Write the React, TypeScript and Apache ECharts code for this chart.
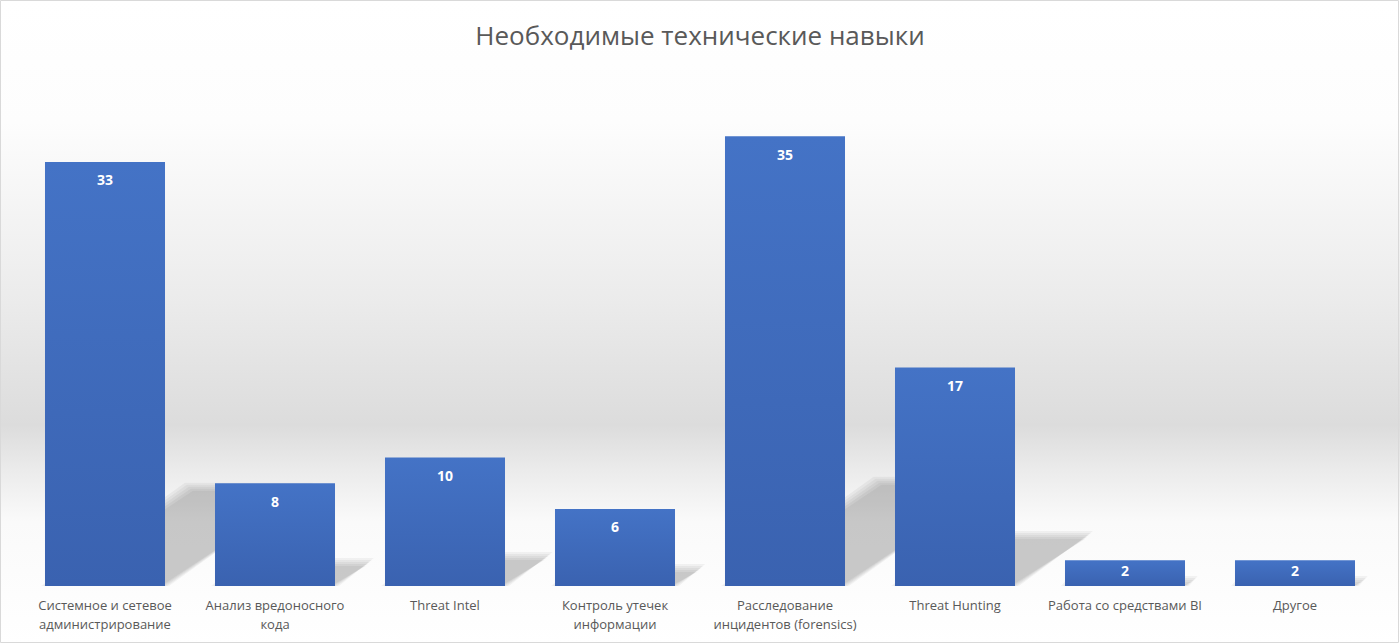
import * as echarts from 'echarts';
import React, { useEffect, useRef } from 'react';

const categories = [
  'Системное и сетевое\nадминистрирование',
  'Анализ вредоносного\nкода',
  'Threat Intel',
  'Контроль утечек\nинформации',
  'Расследование\nинцидентов (forensics)',
  'Threat Hunting',
  'Работа со средствами BI',
  'Другое',
];
const values = [33, 8, 10, 6, 35, 17, 2, 2];

const FONT = '"Open Sans", "Noto Sans", sans-serif';

// soft edge for the floor shadow: several stacked polygons, a bit wider each time
const blurSteps = [-4, -2, 0, 2, 4];

const App: React.FC = () => {
  const ref = useRef<HTMLDivElement>(null);
  const chart = useRef<echarts.ECharts>();

  useEffect(() => {
    chart.current = echarts.init(ref.current, null, { renderer: 'svg' });
    chart.current.setOption({
      animation: false,
      backgroundColor: new echarts.graphic.LinearGradient(0, 0, 0, 1, [
        { offset: 0, color: '#ffffff' },
        { offset: 0.19, color: '#fdfdfd' },
        { offset: 0.47, color: '#ebebeb' },
        { offset: 0.66, color: '#dcdcdc' },
        { offset: 0.73, color: '#ebebeb' },
        { offset: 0.81, color: '#fafafa' },
        { offset: 1, color: '#ffffff' },
      ]),
      title: {
        text: 'Необходимые технические навыки',
        left: 'center',
        top: 17,
        textStyle: { fontFamily: FONT, fontSize: 26, fontWeight: 'normal', color: '#595959' },
      },
      graphic: [
        {
          type: 'rect',
          shape: { x: 0.5, y: 0.5, width: 1398, height: 642 },
          style: { fill: 'none', stroke: '#d9d9d9', lineWidth: 1 },
          silent: true,
        },
      ],
      grid: { left: 20, right: 20, top: 72, bottom: 58 },
      xAxis: {
        type: 'category',
        data: categories,
        axisLine: { show: false },
        axisTick: { show: false },
        axisLabel: {
          interval: 0,
          margin: 9,
          fontFamily: FONT,
          fontSize: 13,
          lineHeight: 19,
          color: '#595959',
        },
      },
      yAxis: {
        type: 'value',
        min: 0,
        max: 40,
        show: false,
        splitLine: { show: false },
      },
      series: [
        {
          type: 'custom',
          z: 1,
          silent: true,
          data: values.map((v, i) => [i, v]),
          encode: { x: 0, y: 1 },
          renderItem: (params: any, api: any) => {
            const base = api.coord([api.value(0), 0]);
            const top = api.coord([api.value(0), api.value(1)]);
            const half = (api.size([1, 0])[0] * 0.706) / 2;
            const ly = (base[1] - top[1]) * 0.234;
            const lx = ly * 1.45;
            return {
              type: 'group',
              children: blurSteps.map((d) => ({
                type: 'polygon',
                shape: {
                  points: [
                    [base[0] - half - d, base[1]],
                    [base[0] + half + d, base[1]],
                    [base[0] + half + lx + d, base[1] - ly - d],
                    [base[0] - half + lx - d, base[1] - ly - d],
                  ],
                },
                style: { fill: 'rgba(0,0,0,0.042)' },
              })),
            };
          },
        },
        {
          type: 'bar',
          z: 2,
          barWidth: '70.6%',
          data: values.map((v) => (v < 3 ? { value: v, label: { distance: 3 } } : v)),
          itemStyle: {
            color: new echarts.graphic.LinearGradient(0, 0, 0, 1, [
              { offset: 0, color: '#4473c6' },
              { offset: 1, color: '#3a62b0' },
            ]),
          },
          label: {
            show: true,
            position: 'insideTop',
            distance: 11,
            fontFamily: FONT,
            fontSize: 14,
            fontWeight: 'bold',
            color: '#ffffff',
          },
        },
      ],
    });

    return () => {
      chart.current?.dispose();
    };
  }, []);

  return (
    <div
      ref={ref}
      style={{ position: 'fixed', left: 0, top: 0, width: 1400, height: 644 }}
    ></div>
  );
};

export default App;
